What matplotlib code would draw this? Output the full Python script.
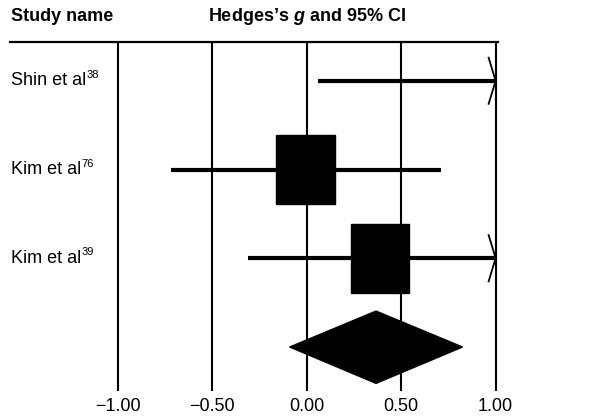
import matplotlib.pyplot as plt
from matplotlib.patches import Rectangle, Polygon

plt.rcParams['font.family'] = 'Liberation Sans'
plt.rcParams['mathtext.fontset'] = 'custom'
plt.rcParams['mathtext.rm'] = 'Liberation Sans'
plt.rcParams['mathtext.it'] = 'Liberation Sans:italic'
plt.rcParams['mathtext.bf'] = 'Liberation Sans:bold'
plt.rcParams['mathtext.bfit'] = 'Liberation Sans:italic:bold'

# study data (Hedges's g, lower, upper)
studies = ['Shin et al', 'Kim et al', 'Kim et al']
refs = ['38', '76', '39']
g = [1.20, -0.005, 0.387]
lower = [0.06, -0.72, -0.31]
upper = [2.34, 0.71, 1.08]
pooled = [0.367, -0.09, 0.825]  # estimate, lower, upper
ticks = [-1.0, -0.5, 0.0, 0.5, 1.0]
tick_labels = ['\u22121.00', '\u22120.50', '0.00', '0.50', '1.00']

xmin, xmax = -1.0, 1.0
sq_w, sq_h = 0.31, 0.78

fig = plt.figure(figsize=(6.16, 4.18), dpi=100)
ax = fig.add_axes([0, 0, 1, 1])
ax.set_xlim(-1.623, 1.637)
ax.set_ylim(3.80, -0.91)
ax.axis('off')

# header
ax.text(-1.566, -0.72, 'Study name', fontsize=13, fontweight='bold', va='center', ha='left')
ax.text(0.0, -0.72, 'Hedges\u2019s $\\mathbfit{g}$ and 95% CI', fontsize=13,
        fontweight='bold', va='center', ha='center')
ax.plot([-1.57, 1.01], [-0.435, -0.435], color='black', lw=1.6)

# vertical reference lines
for t, lab in zip(ticks, tick_labels):
    ax.plot([t, t], [-0.425, 3.487], color='black', lw=1.5, zorder=1)
    ax.text(t, 3.665, lab, fontsize=13, ha='center', va='center')

for i, name in enumerate(studies):
    txt = ax.text(-1.566, i, name, fontsize=13, ha='left', va='center')
    ax.annotate(refs[i], xy=(1, 1), xycoords=txt, xytext=(0.3, 1.8),
                textcoords='offset points', fontsize=8, ha='left', va='top')
    lo = max(lower[i], xmin)
    hi = min(upper[i], xmax)
    ax.plot([lo, hi], [i, i], color='black', lw=3, solid_capstyle='butt', zorder=2)
    if upper[i] > xmax:
        ax.plot([xmax - 0.037, xmax, xmax - 0.037], [i - 0.26, i, i + 0.26],
                color='black', lw=1.3, zorder=3)
    if xmin <= g[i] <= xmax:
        ax.add_patch(Rectangle((g[i] - sq_w / 2, i - sq_h / 2), sq_w, sq_h,
                               facecolor='black', edgecolor='black', zorder=3))

# pooled diamond
row = len(studies)
ax.add_patch(Polygon([(pooled[1], row), (pooled[0], row - 0.405),
                      (pooled[2], row), (pooled[0], row + 0.41)],
                     closed=True, facecolor='black', edgecolor='black', zorder=3))

fig.savefig('out.png', dpi=100)
